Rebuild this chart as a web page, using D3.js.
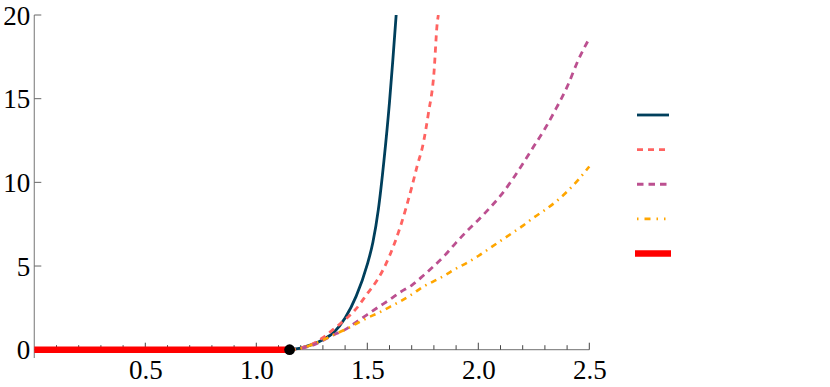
<!DOCTYPE html>
<html>
<head>
<meta charset="utf-8">
<script src="https://cdn.jsdelivr.net/npm/d3@7"></script>
<style>
  html, body { margin: 0; padding: 0; background: #fff; }
  svg { display: block; }
  .tick-label { font-family: 'Liberation Serif', 'DejaVu Serif', serif; font-size: 27px; fill: #000; }
</style>
</head>
<body>
<div id="chart"></div>
<script>
// values
const xTicks = [0.5, 1.0, 1.5, 2.0, 2.5]
const xMinorTicks = [0.1, 0.2, 0.3, 0.4, 0.6, 0.7, 0.8, 0.9, 1.1, 1.2, 1.3, 1.4, 1.6, 1.7, 1.8, 1.9, 2.1, 2.2, 2.3, 2.4]
const yTicks = [0, 5, 10, 15, 20]
const criticalPoint = [1.15, 0]

const baseX = [0, 1.15]
const baseY = [0, 0]

const blueX = [1.15, 1.2, 1.25, 1.3, 1.35, 1.4, 1.45, 1.5, 1.525, 1.55, 1.575, 1.6, 1.615, 1.63]
const blueY = [0, 0.1, 0.3, 0.6, 1.05, 1.9, 3.2, 5.1, 6.4, 8.4, 11.3, 14.8, 17.3, 20]

const pinkX = [1.15, 1.2, 1.25, 1.3, 1.35, 1.4, 1.45, 1.5, 1.55, 1.6, 1.65, 1.7, 1.725, 1.75, 1.775, 1.8, 1.815, 1.82]
const pinkY = [0, 0.1, 0.33, 0.72, 1.25, 1.8, 2.45, 3.35, 4.27, 5.6, 7.4, 9.7, 11.0, 12.2, 14.1, 16.5, 19.5, 20]

const purpleX = [1.15, 1.2, 1.25, 1.3, 1.35, 1.4, 1.45, 1.5, 1.55, 1.6, 1.65, 1.7, 1.75, 1.8, 1.85, 1.9, 1.95, 2.0, 2.05, 2.1, 2.15, 2.2, 2.25, 2.3, 2.35, 2.4, 2.45, 2.5]
const purpleY = [0, 0.08, 0.25, 0.55, 0.9, 1.2, 1.65, 2.1, 2.55, 2.98, 3.45, 3.85, 4.4, 5.0, 5.65, 6.4, 7.1, 7.75, 8.45, 9.2, 10.1, 11.1, 12.15, 13.2, 14.4, 15.7, 17.3, 18.6]

const orangeX = [1.15, 1.2, 1.25, 1.3, 1.35, 1.4, 1.45, 1.5, 1.55, 1.6, 1.65, 1.7, 1.75, 1.8, 1.85, 1.9, 1.95, 2.0, 2.05, 2.1, 2.15, 2.2, 2.25, 2.3, 2.35, 2.4, 2.45, 2.5]
const orangeY = [0, 0.08, 0.3, 0.58, 0.9, 1.2, 1.55, 1.9, 2.2, 2.55, 2.9, 3.3, 3.75, 4.1, 4.45, 4.85, 5.2, 5.6, 6.05, 6.5, 6.95, 7.4, 7.9, 8.35, 8.85, 9.45, 10.15, 10.95]

const series = [
  { name: 'blue', xs: blueX, ys: blueY, color: '#003f5c', width: 2.8, dash: null },
  { name: 'pink', xs: pinkX, ys: pinkY, color: '#ff6361', width: 2.8, dash: '6,5' },
  { name: 'purple', xs: purpleX, ys: purpleY, color: '#bc5090', width: 2.8, dash: '6.5,5' },
  { name: 'orange', xs: orangeX, ys: orangeY, color: '#ffa600', width: 2.6, dash: '6,5,1.5,5' }
]
const baseSeries = { name: 'base', xs: baseX, ys: baseY, color: '#ff0000', width: 6.5, dash: null }

const width = 830
const height = 387
const svg = d3.select('#chart')
  .append('svg')
  .attr('width', width)
  .attr('height', height)

const xScale = d3.scaleLinear()
  .domain([0, 2.5])
  .range([34.3, 589.3])
const yScale = d3.scaleLinear()
  .domain([0, 20])
  .range([349.7, 15])

svg.append('defs')
  .append('clipPath')
  .attr('id', 'plot-clip')
  .append('rect')
  .attr('x', xScale(0))
  .attr('y', yScale(20))
  .attr('width', xScale(2.5) - xScale(0) + 4)
  .attr('height', yScale(0) - yScale(20) + 10)

// axes
const axisX = d3.axisBottom(xScale).tickValues(xTicks).tickFormat(d3.format('.1f')).tickSize(0).tickPadding(14)
const axisY = d3.axisLeft(yScale).tickValues(yTicks).tickFormat(d3.format('d')).tickSize(0).tickPadding(4)

const gx = svg.append('g')
  .attr('class', 'axisX')
  .attr('transform', `translate(0, ${yScale(0)})`)
  .call(axisX)
gx.select('.domain').remove()
gx.selectAll('text').attr('class', 'tick-label').attr('dy', '0.58em')

const gy = svg.append('g')
  .attr('class', 'axisY')
  .attr('transform', `translate(${xScale(0)}, 0)`)
  .call(axisY)
gy.select('.domain').remove()
gy.selectAll('text').attr('class', 'tick-label').attr('dy', '0.34em')

svg.append('line')
  .attr('x1', xScale(0))
  .attr('x2', xScale(2.5))
  .attr('y1', yScale(0))
  .attr('y2', yScale(0))
  .attr('stroke', '#8c8c8c')
  .attr('stroke-width', 1.2)
svg.append('line')
  .attr('x1', xScale(0))
  .attr('x2', xScale(0))
  .attr('y1', yScale(-0.5))
  .attr('y2', yScale(20))
  .attr('stroke', '#8c8c8c')
  .attr('stroke-width', 1.2)

// tick marks point into the plot
svg.append('g')
  .selectAll('line')
  .data(xTicks.map(v => ({ v, len: 7 })).concat(xMinorTicks.map(v => ({ v, len: 4.5 }))))
  .join('line')
  .attr('x1', d => xScale(d.v))
  .attr('x2', d => xScale(d.v))
  .attr('y1', yScale(0))
  .attr('y2', d => yScale(0) - d.len)
  .attr('stroke', '#444')
  .attr('stroke-width', 1)
svg.append('g')
  .selectAll('line')
  .data(yTicks)
  .join('line')
  .attr('x1', xScale(0))
  .attr('x2', xScale(0) + 7)
  .attr('y1', d => yScale(d))
  .attr('y2', d => yScale(d))
  .attr('stroke', '#666')
  .attr('stroke-width', 1)

// curves
const line = d3.line()
  .x(d => xScale(d[0]))
  .y(d => yScale(d[1]))
  .curve(d3.curveMonotoneX)

svg.append('path')
  .attr('d', line(baseSeries.xs.map((x, i) => [x, baseSeries.ys[i]])))
  .attr('stroke', baseSeries.color)
  .attr('stroke-width', baseSeries.width)
  .attr('fill', 'none')

svg.append('g')
  .attr('clip-path', 'url(#plot-clip)')
  .selectAll('path')
  .data(series)
  .join('path')
  .attr('d', d => line(d.xs.map((x, i) => [x, d.ys[i]])))
  .attr('stroke', d => d.color)
  .attr('stroke-width', d => d.width)
  .attr('stroke-dasharray', d => d.dash)
  .attr('fill', 'none')

svg.append('circle')
  .attr('cx', xScale(criticalPoint[0]))
  .attr('cy', yScale(criticalPoint[1]))
  .attr('r', 5.4)
  .attr('fill', '#000')

// legend (no labels in the reference)
const legendItems = series.concat([baseSeries])
const legendY = d3.scalePoint()
  .domain(legendItems.map(d => d.name))
  .range([115, 253.5])
svg.append('g')
  .selectAll('line')
  .data(legendItems)
  .join('line')
  .attr('x1', d => d.name === 'base' ? 635 : 637)
  .attr('x2', d => d.name === 'base' ? 671 : 669)
  .attr('y1', d => legendY(d.name))
  .attr('y2', d => legendY(d.name))
  .attr('stroke', d => d.color)
  .attr('stroke-width', d => d.name === 'base' ? 6.5 : 2.8)
  .attr('stroke-dasharray', d => d.name === 'orange' ? '1.5,6,6,6,1.5,6' : d.dash)
</script>
</body>
</html>
